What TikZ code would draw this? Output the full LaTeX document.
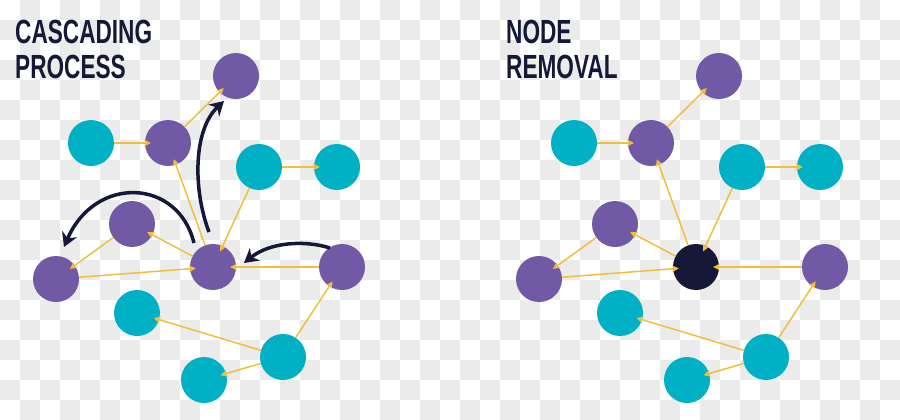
\documentclass[tikz,border=0pt]{standalone}
\usepackage{fontspec}
\setmainfont{Liberation Sans}
\usetikzlibrary{arrows.meta}
\definecolor{navy}{HTML}{151836}
\definecolor{purp}{HTML}{7259A5}
\definecolor{tealc}{HTML}{00B1C5}
\definecolor{gold}{HTML}{F0BF3C}
\definecolor{chk}{HTML}{EBEBEB}
\tikzset{
  net/.style={circle,minimum size=46pt,inner sep=0pt,draw=none},
  pnode/.style={net,fill=purp},
  tnode/.style={net,fill=tealc},
  xnode/.style={net,fill=navy},
  link/.style={draw=gold,line width=1.5pt,-{Stealth[length=7pt,width=7pt]},shorten >=-6pt},
  flow/.style={draw=navy,line width=3.5pt,-{Stealth[length=14pt,width=16pt]}},
  title/.style={anchor=base west,text=navy,font=\bfseries\fontsize{33.5}{34}\selectfont,inner sep=0pt}
}
\newcommand\netpanel[3]{%
  \begin{scope}[shift={(#2,0)}]
    \node[pnode] (#1top) at (236,76) {};
    \node[tnode] (#1ca) at (91,143) {};
    \node[pnode] (#1pb) at (168,143) {};
    \node[tnode] (#1cb) at (259,167) {};
    \node[tnode] (#1cc) at (337,167) {};
    \node[pnode] (#1pc) at (132,224) {};
    \node[pnode] (#1pd) at (56,279) {};
    \node[#3] (#1mid) at (213,267) {};
    \node[pnode] (#1pe) at (342,267) {};
    \node[tnode] (#1cd) at (137,313) {};
    \node[tnode] (#1ce) at (283,357) {};
    \node[tnode] (#1cf) at (204,380) {};
    \draw[link] (#1ca) -- (#1pb);
    \draw[link] (#1pb) -- (#1top);
    \draw[link] (#1mid) -- (#1pb);
    \draw[link] (#1cb) -- (#1mid);
    \draw[link] (#1cb) -- (#1cc);
    \draw[link] (#1mid) -- (#1pc);
    \draw[link] (#1pc) -- (#1pd);
    \draw[link] (#1pd) -- (#1mid);
    \draw[link] (#1pe) -- (#1mid);
    \draw[link] (#1ce) -- (#1pe);
    \draw[link] (#1ce) -- (#1cd);
    \draw[link] (#1ce) -- (#1cf);
  \end{scope}
}
\begin{document}
\begin{tikzpicture}[x=1pt,y=-1pt]
  \useasboundingbox (0,0) rectangle (900,420);
  \fill[white] (0,0) rectangle (900,420);
  \foreach \i in {0,...,44} {
    \foreach \j in {0,...,20} {
      \pgfmathtruncatemacro\s{\i+\j}
      \ifodd\s
        \fill[chk] (\i*20,\j*20) rectangle ++(20,20);
      \fi
    }
  }
  \node[title] (t1) at (15,44) {\scalebox{0.675}[1]{CASCADING}};
  \node[title] (t2) at (15,79) {\scalebox{0.675}[1]{PROCESS}};
  \node[title] (t3) at (506,44) {\scalebox{0.675}[1]{NODE}};
  \node[title] (t4) at (506,79) {\scalebox{0.675}[1]{REMOVAL}};
  \netpanel{L}{0}{pnode}
  \netpanel{R}{483}{xnode}
  \coordinate (f1s) at (209,232);
  \coordinate (f1e) at (224,101);
  \coordinate (f2s) at (194,243);
  \coordinate (f2e) at (64,247);
  \coordinate (f3s) at (330,248);
  \coordinate (f3e) at (244,263);
  \draw[flow] (f1s) .. controls (193,190) and (193,130) .. (f1e);
  \draw[flow] (f2s) .. controls (178,178) and (95,175) .. (f2e);
  \draw[flow] (f3s) .. controls (305,240) and (270,242) .. (f3e);
\end{tikzpicture}
\end{document}
